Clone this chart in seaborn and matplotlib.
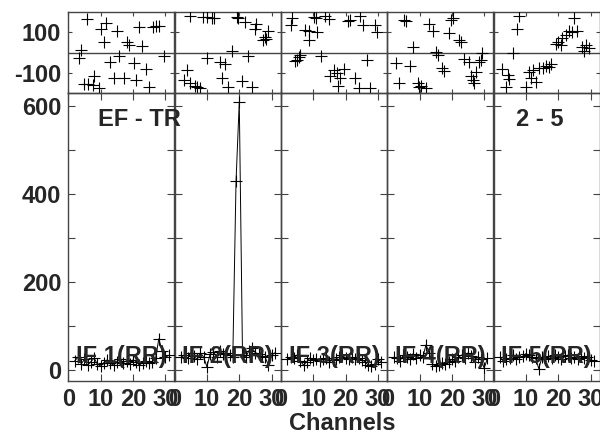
import matplotlib
matplotlib.use("Agg")
import matplotlib.pyplot as plt
import seaborn as sns
import pandas as pd

sns.set_theme(style="white")
plt.rcParams["font.family"] = ["Liberation Sans", "DejaVu Sans"]
plt.rcParams["font.weight"] = "bold"

# ---------------- data ----------------
channels = list(range(2, 32))
if_labels = ["IF 1(RR)", "IF 2(RR)", "IF 3(RR)", "IF 4(RR)", "IF 5(RR)"]
baseline_label = "EF - TR"
source_label = "2 - 5"

amp_if1 = [22, 30, 15, 25, 12, 20, 28, 14, 10, 18, 24, 16, 12, 20, 26,
           18, 22, 15, 24, 20, 12, 18, 22, 16, 20, 28, 72, 45, 30, 34]
amp_if2 = [30, 35, 28, 40, 32, 25, 40, 30, 8, 38, 42, 30, 45, 38, 40,
           35, 30, 430, 610, 35, 30, 45, 50, 40, 38, 32, 30, 12, 35, 40]
amp_if3 = [25, 30, 28, 35, 22, 12, 20, 28, 24, 26, 22, 25, 28, 20, 24,
           26, 30, 34, 28, 25, 30, 26, 28, 24, 20, 12, 10, 14, 25, 20]
amp_if4 = [30, 28, 22, 35, 30, 25, 38, 28, 35, 30, 58, 40, 15, 10, 12,
           18, 15, 20, 25, 22, 30, 35, 28, 40, 32, 20, 30, 25, 5, 28]
amp_if5 = [30, 22, 25, 28, 35, 25, 30, 32, 38, 35, 30, 28, 4, 30, 25,
           32, 28, 35, 30, 26, 32, 35, 28, 30, 25, 32, 28, 30, 24, 22]

ph_ch_if1 = [5.9, 11.6, 10.1, 15.0, 11.1, 18.1, 18.8, 22.9, 21.8, 26.2, 27.2, 28.0,
             3.9, 3.2, 29.7, 15.7, 12.9, 20.3, 23.9, 8.0, 14.0, 17.2, 20.8, 24.9,
             6.0, 5.0, 7.5, 9.5]
ph_if1 = [163, 142, 115, 102, 53, 53, 37, 32, 121, 121, 126, 126,
          13, -27, -16, -19, -48, -52, -81, -116, -124, -121, -135, -168,
          -153, -153, -156, -172]
ph_ch_if2 = [4.8, 8.9, 10.0, 11.5, 12.3, 19.2, 19.7, 21.7, 25.3, 24.8, 28.9, 28.0,
             27.4, 28.2, 17.6, 22.6, 9.9, 14.0, 15.6, 3.8, 2.8, 4.8, 6.4, 6.9,
             7.9, 14.8, 16.6, 20.7, 23.8]
ph_if2 = [179, 174, 174, 166, 166, 174, 166, 150, 137, 115, 102, 77,
          61, 66, 8, -15, -27, -44, -56, -87, -132, -148, -160, -168,
          -173, -121, -168, -137, -168]
ph_ch_if3 = [3.5, 3.0, 10.2, 10.9, 13.7, 14.8, 20.9, 21.4, 24.5, 25.5, 29.1, 29.6,
             7.6, 8.6, 11.2, 8.8, 6.0, 5.7, 5.0, 4.3, 12.5, 26.6, 19.4, 16.3,
             17.3, 15.3, 18.4, 23.0, 17.8, 24.0, 27.6]
ph_if3 = [166, 131, 174, 169, 178, 163, 153, 158, 179, 134, 131, 98,
          110, 105, 98, 61, -11, -24, -35, -40, -19, -35, -81, -84,
          -100, -116, -124, -124, -160, -173, -173]
ph_ch_if4 = [5.3, 5.8, 13.0, 14.1, 19.7, 20.4, 19.2, 22.3, 22.8, 7.9, 15.1, 15.6,
             29.4, 2.8, 6.9, 23.8, 25.4, 28.4, 28.9, 17.1, 17.6, 27.4, 25.8, 26.4,
             26.9, 3.8, 9.4, 10.5, 9.9, 12.0]
ph_if4 = [158, 153, 137, 102, 158, 166, 94, 61, 53, 29, 2, -11,
          -3, -52, -63, -31, -47, -44, -35, -76, -89, -92, -116, -132,
          -148, -148, -148, -160, -169, -173]
ph_ch_if5 = [8.0, 7.2, 24.9, 23.4, 24.4, 25.9, 22.4, 21.3, 19.8, 19.3, 20.8, 27.5,
             28.5, 29.5, 28.0, 5.9, 2.7, 4.4, 4.9, 3.9, 10.1, 13.1, 11.0, 12.1,
             14.2, 15.2, 16.2, 17.2, 17.7, 11.6]
ph_if5 = [178, 115, 166, 105, 98, 105, 85, 69, 53, 40, 34, 29,
          34, 24, 8, 0, -81, -108, -127, -165, -168, -144, -92, -84,
          -76, -73, -63, -68, -56, -124]

amps = [amp_if1, amp_if2, amp_if3, amp_if4, amp_if5]
ph_chs = [ph_ch_if1, ph_ch_if2, ph_ch_if3, ph_ch_if4, ph_ch_if5]
phs = [ph_if1, ph_if2, ph_if3, ph_if4, ph_if5]

# ---------------- layout ----------------
W, H = 600, 434
fig = plt.figure(figsize=(W / 100, H / 100), dpi=100)
x0, pw = 68.3, 106.3
frame_col = "#444444"
FS = 17
XMAX = 32.8

for i in range(5):
    left = (x0 + i * pw) / W
    width = pw / W - 0.0004
    axp = fig.add_axes([left, 1 - 93 / H, width, 81 / H])
    axa = fig.add_axes([left, 1 - 381 / H, width, 288 / H])
    axp.set_facecolor("none")
    axa.set_facecolor("none")

    # phase panel
    dfp = pd.DataFrame({"ch": ph_chs[i], "ph": phs[i]})
    sns.scatterplot(data=dfp, x="ch", y="ph", ax=axp, marker="+", color="black",
                    s=80, linewidth=0.8, legend=False, zorder=3)
    axp.axhline(0, color=frame_col, lw=1.0, zorder=2)
    axp.set_xlim(0, XMAX)
    axp.set_ylim(-196, 196)
    axp.set_xticks([0, 10, 20, 30])
    axp.set_yticks([-100, 100])
    axp.set_yticklabels(["-100", "100"])
    axp.tick_params(direction="in", top=True, right=True, bottom=True, left=True,
                    length=3, width=0.8, color=frame_col, labelbottom=False,
                    labelleft=(i == 0), labelsize=FS, pad=5)
    axp.set_xlabel("")
    axp.set_ylabel("")

    # amplitude panel
    dfa = pd.DataFrame({"ch": channels, "amp": amps[i]})
    sns.lineplot(data=dfa, x="ch", y="amp", ax=axa, color="black", lw=0.7,
                 marker="+", markersize=9, markeredgewidth=0.8,
                 markeredgecolor="black", zorder=3)
    axa.set_xlim(0, XMAX)
    axa.set_ylim(-24, 630)
    axa.set_xticks([0, 10, 20, 30])
    axa.set_xticklabels(["0", "10", "20", "30"])
    axa.set_yticks([0, 100, 200, 300, 400, 500, 600])
    axa.set_yticklabels(["0", "", "200", "", "400", "", "600"])
    axa.tick_params(direction="in", top=True, right=True, bottom=True, left=True,
                    length=5, width=0.8, color=frame_col, labelbottom=True,
                    labelleft=(i == 0), labelsize=FS, pad=5)
    axa.set_xlabel("")
    axa.set_ylabel("")
    axa.text(XMAX / 2, 16, if_labels[i], fontsize=FS, fontweight="bold",
             ha="center", va="baseline", zorder=5, clip_on=False)

    for ax in (axp, axa):
        for sp in ax.spines.values():
            sp.set_color(frame_col)
            sp.set_linewidth(1.0)
            sp.set_visible(True)
        for lab in ax.get_xticklabels() + ax.get_yticklabels():
            lab.set_fontweight("bold")

fig.text(98 / W, 1 - 126 / H, baseline_label, fontsize=FS, fontweight="bold",
         ha="left", va="baseline")
fig.text(516 / W, 1 - 126 / H, source_label, fontsize=FS, fontweight="bold",
         ha="left", va="baseline")
fig.text(342 / W, 1 - 430 / H, "Channels", fontsize=FS, fontweight="bold",
         ha="center", va="baseline")

fig.savefig("out.png", dpi=100)
